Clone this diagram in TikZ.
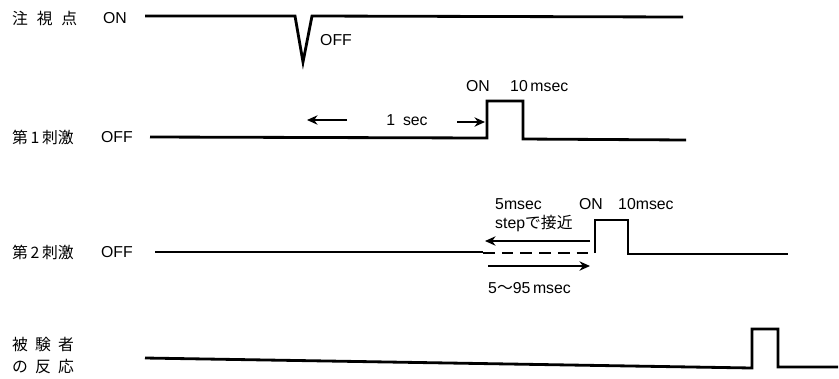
\documentclass[tikz,border=0pt]{standalone}
\usepackage{fontspec}
\setmainfont{Liberation Sans}
\newfontfamily\jp{Noto Sans CJK JP}
\usetikzlibrary{arrows.meta}

\begin{document}
\begin{tikzpicture}[x=0.03cm,y=-0.03cm,
  wave/.style={line width=2.4pt,line join=miter},
  arr/.style={line width=1.8pt,-{Stealth[length=9pt,width=8pt]}},
  lbl/.style={font=\fontsize{13.5}{16}\selectfont,inner sep=0pt}]
\useasboundingbox (0,0) rectangle (839,378);
% fixation point
\node[lbl,anchor=west] (fix) at (12,18) {\jp 注\hspace{0.55em}視\hspace{0.55em}点};
\node[lbl] (fixon) at (115,18) {ON};
\draw[wave] (145,16)--(295,16)--(303,62)--(312,16)--(683,17);
\node[lbl,anchor=west] (fixoff) at (320,40) {OFF};
% first stimulus
\node[lbl,anchor=west] (stA) at (12,137) {\jp 第\,1\,刺激};
\node[lbl] (stAoff) at (117,137) {OFF};
\draw[wave] (150,137)--(487,138)--(487,101)--(523,101)--(523,139)--(686,140);
\node[lbl] (stAon) at (478,86) {ON};
\node[lbl,anchor=west] (stAlen) at (510,86) {10\,msec};
\node[lbl] (sec) at (407,120) {1\hspace{0.5em}sec};
\coordinate (secL) at (307,120);
\coordinate (secR) at (485,122);
\draw[arr] (347,120) -- (secL);
\draw[arr] (457,122) -- (secR);
% second stimulus
\node[lbl,anchor=west] (stB) at (12,252) {\jp 第\,2\,刺激};
\node[lbl] (stBoff) at (117,252) {OFF};
\draw[wave] (155,252)--(483,252);
\draw[wave,dash pattern=on 10pt off 6pt] (483,253)--(595,253);
\draw[wave] (595,253)--(595,220)--(628,220)--(628,254)--(788,254);
\node[lbl,anchor=west] (stepA) at (495,204) {5msec};
\node[lbl,anchor=west] (stepB) at (495,223) {step{\jp で接近}};
\node[lbl] (stBon) at (591,204) {ON};
\node[lbl,anchor=west] (stBlen) at (618,204) {10msec};
\node[lbl,anchor=west] (range) at (488,288) {5{\jp ～}95\,msec};
\coordinate (nearR) at (590,241);
\coordinate (nearL) at (485,241);
\coordinate (soaL) at (488,266);
\coordinate (soaR) at (590,266);
\draw[arr] (nearR) -- (nearL);
\draw[arr] (soaL) -- (soaR);
% response
\node[lbl,anchor=west] (resA) at (12,345) {\jp 被\hspace{0.45em}験\hspace{0.45em}者};
\node[lbl,anchor=west] (resB) at (12,366) {\jp の\hspace{0.45em}反\hspace{0.45em}応};
\draw[wave] (145,358)--(752,368)--(752,329)--(778,329)--(778,367)--(838,367);
\end{tikzpicture}
\end{document}
